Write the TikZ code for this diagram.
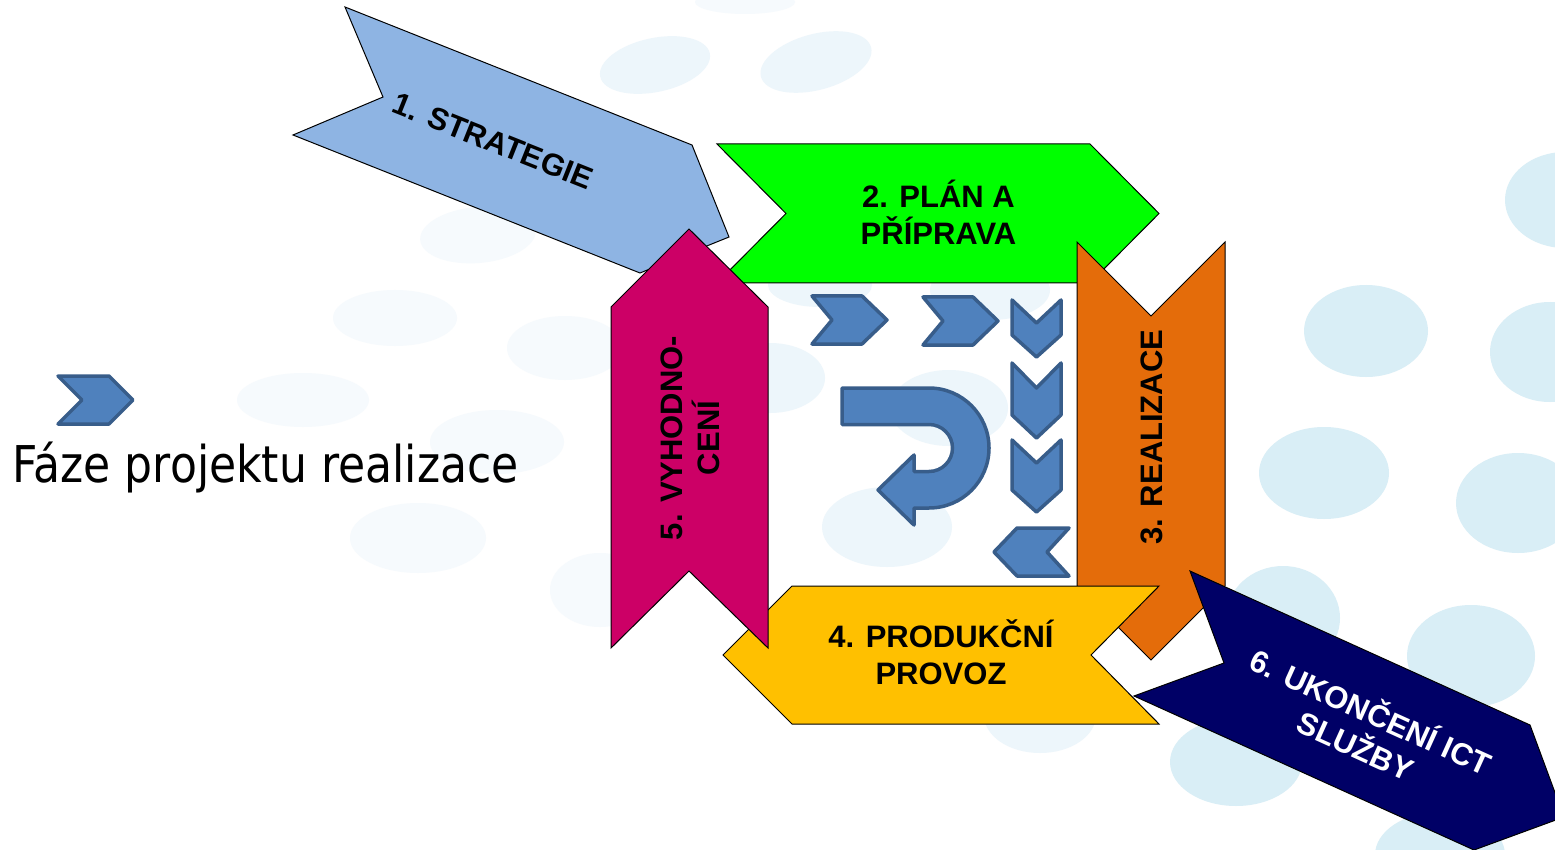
\documentclass[tikz,border=0pt]{standalone}
\usepackage{fontspec}
\setmainfont{Liberation Sans}
\newfontfamily\legfont[FakeStretch=0.87]{DejaVu Sans}
\definecolor{cStrat}{HTML}{8EB4E3}
\definecolor{cPlan}{HTML}{00FF00}
\definecolor{cReal}{HTML}{E46C0A}
\definecolor{cProd}{HTML}{FFC000}
\definecolor{cEval}{HTML}{CC0066}
\definecolor{cEnd}{HTML}{000066}
\definecolor{cChev}{HTML}{4F81BD}
\definecolor{cChevLine}{HTML}{385D8A}
\definecolor{bgStrong}{HTML}{D9EEF6}
\definecolor{bgMid}{HTML}{EDF6FB}
\definecolor{bgFaint}{HTML}{F6FAFD}
\begin{document}
\begin{tikzpicture}[x=1pt,y=-1pt,
  phase/.style={draw=black, line width=1pt, line join=miter},
  chev/.style={fill=cChev, draw=cChevLine, line width=3.5pt, line join=round},
  ptext/.style={font=\fontsize{31}{37}\selectfont\bfseries, align=center, inner sep=0pt},
  bgS/.style={fill=bgStrong}, bgM/.style={fill=bgMid}, bgF/.style={fill=bgFaint}]
\useasboundingbox (0,0) rectangle (1555,850);
\clip (0,0) rectangle (1555,850);
\fill[white] (0,0) rectangle (1555,850);
% background ellipses (faint)
\fill[bgM, rotate around={12:(655,65)}] (655,65) ellipse [x radius=56pt, y radius=27pt];
\fill[bgM, rotate around={15:(816,62)}] (816,62) ellipse [x radius=57pt, y radius=28pt];
\fill[bgF] (745,2) ellipse [x radius=50pt, y radius=12pt];
\fill[bgF, rotate around={5:(478,235)}] (478,235) ellipse [x radius=58pt, y radius=28pt];
\fill[bgF] (395,318) ellipse [x radius=62pt, y radius=28pt];
\fill[bgF] (565,348) ellipse [x radius=58pt, y radius=32pt];
\fill[bgF] (303,400) ellipse [x radius=66pt, y radius=27pt];
\fill[bgF] (497,442) ellipse [x radius=67pt, y radius=32pt];
\fill[bgF] (418,538) ellipse [x radius=68pt, y radius=35pt];
\fill[bgF] (600,590) ellipse [x radius=50pt, y radius=37pt];
% background ellipses (center)
\fill[bgM] (887,527) ellipse [x radius=65pt, y radius=40pt];
\fill[bgM] (949,408) ellipse [x radius=59pt, y radius=38pt];
\fill[bgM] (770,378) ellipse [x radius=55pt, y radius=35pt];
\fill[bgM] (820,285) ellipse [x radius=52pt, y radius=22pt];
\fill[bgM] (990,290) ellipse [x radius=60pt, y radius=30pt];
\fill[bgM] (1040,715) ellipse [x radius=56pt, y radius=38pt];
% background ellipses (right)
\fill[bgS] (1565,200) ellipse [x radius=60pt, y radius=48pt];
\fill[bgS] (1366,331) ellipse [x radius=62pt, y radius=46pt];
\fill[bgS] (1550,352) ellipse [x radius=60pt, y radius=50pt];
\fill[bgS] (1324,473) ellipse [x radius=65pt, y radius=46pt];
\fill[bgS] (1518,503) ellipse [x radius=62pt, y radius=50pt];
\fill[bgS] (1471,656) ellipse [x radius=64pt, y radius=51pt];
\fill[bgS] (1283,618) ellipse [x radius=57pt, y radius=52pt];
\fill[bgS] (1236,762) ellipse [x radius=66pt, y radius=44pt];
\fill[bgS] (1440,855) ellipse [x radius=65pt, y radius=43pt];
% phases
\draw[phase, fill=cStrat] (345,7) -- (692,145) -- (729,237) -- (640,273) -- (293,135) -- (383,97) -- cycle;
\draw[phase, fill=cPlan] (717,144) -- (1090,144) -- (1159,213.5) -- (1090,283) -- (717,283) -- (786,213.5) -- cycle;
\draw[phase, fill=cReal] (1077,242) -- (1151,316) -- (1225,242) -- (1225,586) -- (1151,660) -- (1077,586) -- cycle;
\draw[phase, fill=cProd] (723,655) -- (792,586) -- (1159,586) -- (1091,655) -- (1159,724) -- (792,724) -- cycle;
\draw[phase, fill=cEnd] (1190,571) -- (1530,725) -- (1564,817) -- (1474,850) -- (1134,696) -- (1224,663) -- cycle;
\draw[phase, fill=cEval] (611,307) -- (689,229) -- (768,307) -- (768,648) -- (689,571) -- (611,648) -- cycle;
% small chevrons
\draw[chev] (812,296) -- (862,296) -- (887,320) -- (862,344) -- (812,344) -- (832,320) -- cycle;
\draw[chev] (923,297) -- (973,297) -- (998,321) -- (973,345) -- (923,345) -- (943,321) -- cycle;
\draw[chev] (1012,300) -- (1036.5,323) -- (1061,300) -- (1061,335) -- (1036.5,357) -- (1012,335) -- cycle;
\draw[chev] (1012,363) -- (1036.5,388) -- (1061,363) -- (1061,415) -- (1036.5,438) -- (1012,415) -- cycle;
\draw[chev] (1012,440) -- (1036.5,463) -- (1061,440) -- (1061,490) -- (1036.5,512) -- (1012,490) -- cycle;
\draw[chev] (994,552) -- (1017,528) -- (1069,528) -- (1047,552) -- (1069,576) -- (1017,576) -- cycle;
% U-turn arrow
\draw[chev] (842,388) -- (929,388) arc[start angle=90, end angle=-90, radius=60pt]
  -- (914,508) -- (914,525) -- (878,490) -- (914,455) -- (914,471.5) -- (929,471.5)
  arc[start angle=-90, end angle=90, radius=23.5pt] -- (842,424.5) -- cycle;
% legend
\draw[chev] (58,376) -- (109,376) -- (133,400) -- (109,424) -- (58,424) -- (82,400) -- cycle;
\node[anchor=base west, inner sep=0pt, font=\legfont\fontsize{50.7}{60}\selectfont] (leg) at (12,482) {Fáze projektu realizace};
% texts
\node[ptext, rotate=-21.7] (t1) at (493,141) {1. STRATEGIE};
\node[ptext] (t2) at (938.5,212) {2. PLÁN A\\PŘÍPRAVA};
\node[ptext, rotate=90] (t3) at (1152,437) {3. REALIZACE};
\node[ptext] (t4) at (941,652) {4. PRODUKČNÍ\\PROVOZ};
\node[ptext, rotate=90] (t5) at (690,438) {5. VYHODNO-\\CENÍ};
\node[ptext, text=white, rotate=-24.4] (t6) at (1364,727) {6. UKONČENÍ ICT\\SLUŽBY};
\end{tikzpicture}
\end{document}
